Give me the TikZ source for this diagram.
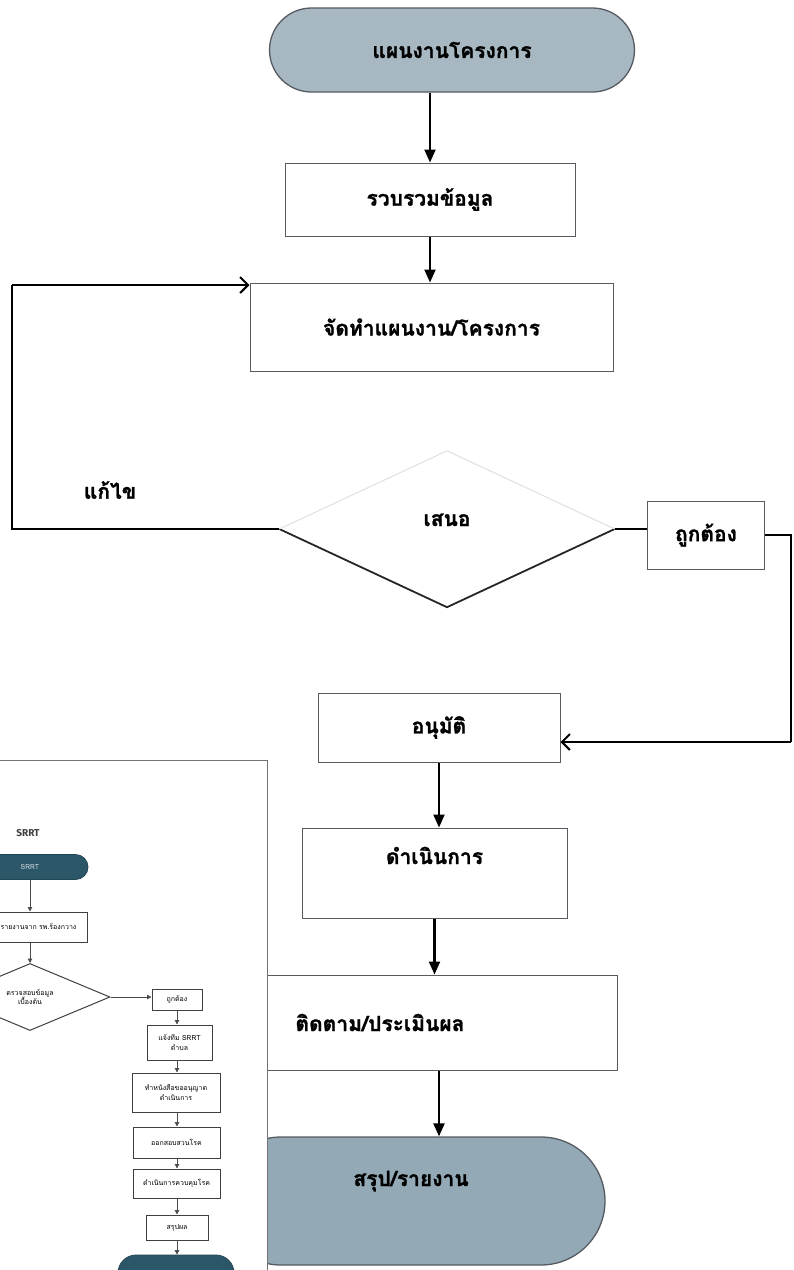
\documentclass[tikz,border=0pt]{standalone}
\usepackage{fontspec}
\newfontfamily\thai[Script=Thai, BoldFeatures={FakeBold=1.2}]{Loma}
\newfontfamily\fira{Fira Sans}
\usetikzlibrary{shapes.geometric,shapes.misc,arrows.meta}
\definecolor{termA}{HTML}{A7B8C2}
\definecolor{termB}{HTML}{93A9B6}
\definecolor{tealdark}{HTML}{2C5769}
\definecolor{edgegray}{HTML}{555B60}
\tikzset{
  mainfont/.style={font=\thai\bfseries\fontsize{21}{24}\selectfont},
  mainbox/.style={rectangle, draw=edgegray, line width=1pt, fill=white, inner sep=0pt, mainfont},
  mainterm/.style={rounded rectangle, draw=edgegray, line width=1.3pt, inner sep=0pt, mainfont},
  flow/.style={line width=2.2pt, -{Triangle[length=13pt,width=11pt]}},
  backline/.style={line width=2pt},
  openarrow/.style={line width=2pt, -{Straight Barb[length=8pt,width=16pt,line width=2pt]}},
  ifont/.style={font=\thai\fontsize{7}{9.5}\selectfont},
  ibox/.style={rectangle, draw=black!75, line width=1pt, fill=white, inner sep=0pt, align=center, ifont},
  iterm/.style={rounded rectangle, draw=tealdark!80!black, line width=0.8pt, fill=tealdark, inner sep=0pt, text=white!80!tealdark, ifont},
  iflow/.style={line width=0.9pt, draw=black!70, -{Triangle[length=4.5pt,width=4.5pt]}}
}
\begin{document}
\begin{tikzpicture}[x=1pt,y=-1pt]
\path[use as bounding box] (0,0) rectangle (794,1270);
\clip (0,0) rectangle (794,1270);
\fill[white] (0,0) rectangle (794,1270);

% ---------- main flow ----------
\node[mainterm, fill=termA, minimum width=365pt, minimum height=84pt] (start) at (452,50) {แผนงานโครงการ};
\node[mainbox, minimum width=290pt, minimum height=73pt] (collect) at (430,199.5) {รวบรวมข้อมูล};
\node[mainbox, minimum width=363pt, minimum height=88pt] (plan) at (431.5,327) {จัดทำแผนงาน/โครงการ};
\node[diamond, minimum width=335pt, minimum height=156pt, inner sep=0pt, mainfont, text height=14pt, text depth=20pt] (propose) at (447,529) {เสนอ};
\node[mainbox, minimum width=117pt, minimum height=68pt] (correct) at (706,535) {ถูกต้อง};
\node[mainbox, minimum width=242pt, minimum height=69pt] (approve) at (439,727.5) {อนุมัติ};
\node[mainbox, minimum width=265pt, minimum height=90pt, text height=14pt, text depth=32pt] (run) at (434.5,873) {ดำเนินการ};
\node[mainbox, minimum width=474pt, minimum height=95pt] (monitor) at (380,1022.5) {ติดตาม/ประเมินผล};
\node[mainterm, fill=termB, minimum width=388pt, minimum height=128pt, text height=14pt, text depth=44pt] (finish) at (411,1201) {สรุป/รายงาน};
\node[mainfont] (fix) at (110,490) {แก้ไข};

\coordinate (loopcorner) at (12,285);
\coordinate (rightcorner) at (791,742);

% diamond outline: lower edges dark, upper edges faded as in the scan
\draw[line width=1.8pt, black!85] (propose.west) -- (propose.south) -- (propose.east);
\draw[line width=1pt, black!12] (propose.west) -- (propose.north) -- (propose.east);

\draw[flow] (collect.north |- start.south) -- (collect.north);
\draw[flow] (collect.south) -- (collect.south |- plan.north);
\draw[backline] (propose.west) -| (loopcorner);
\draw[openarrow] (loopcorner) -- (loopcorner -| plan.west);
\draw[backline] (propose.east) -- (propose.east -| correct.west);
\draw[backline] (correct.east) -| (rightcorner);
\draw[openarrow] (rightcorner) -- (rightcorner -| approve.east);
\draw[flow] (approve.south) -- (approve.south |- run.north);
\draw[flow] (run.south) -- (run.south |- monitor.north);
\draw[flow] (approve.south |- monitor.south) -- (approve.south |- finish.north);

% ---------- inset (photo of another chart) ----------
\fill[white] (-2,760) rectangle (267,1272);
\draw[line width=1pt, black!55] (-2,760) -- (267,760) -- (267,1272);

\node[font=\fira\bfseries\fontsize{10}{12}\selectfont, text=black!75] (title) at (28,833) {SRRT};
\node[iterm, minimum width=116pt, minimum height=25pt] (t1) at (30,867) {SRRT};
\node[ibox, minimum width=97pt, minimum height=30pt] (b1) at (38.5,927) {รายงานจาก รพ.ร้องกวาง};
\node[diamond, draw=black!75, line width=1pt, fill=white, inner sep=0pt, align=center, ifont, minimum width=160pt, minimum height=67pt] (d2) at (30,997) {ตรวจสอบข้อมูล\\เบื้องต้น};
\node[ibox, minimum width=50pt, minimum height=21pt] (ok2) at (177,999.5) {ถูกต้อง};
\node[ibox, minimum width=65pt, minimum height=35pt] (b3) at (179.5,1042.5) {แจ้งทีม SRRT\\ตำบล};
\node[ibox, minimum width=88pt, minimum height=39pt] (b4) at (176,1092.5) {ทำหนังสือขออนุญาต\\ดำเนินการ};
\node[ibox, minimum width=87pt, minimum height=31pt] (b5) at (176.5,1142.5) {ออกสอบสวนโรค};
\node[ibox, minimum width=87pt, minimum height=29pt] (b6) at (176.5,1183.5) {ดำเนินการควบคุมโรค};
\node[ibox, minimum width=62pt, minimum height=25pt] (b7) at (177,1227.5) {สรุปผล};
\node[iterm, minimum width=116pt, minimum height=36pt] (t2) at (176,1273) {};

\draw[iflow] (t1.south) -- (t1.south |- b1.north);
\draw[iflow] (b1.south -| d2.north) -- (d2.north);
\draw[iflow] (d2.east) -- (d2.east -| ok2.west);
\draw[iflow] (ok2.south) -- (ok2.south |- b3.north);
\draw[iflow] (ok2.south |- b3.south) -- (ok2.south |- b4.north);
\draw[iflow] (ok2.south |- b4.south) -- (ok2.south |- b5.north);
\draw[iflow] (ok2.south |- b5.south) -- (ok2.south |- b6.north);
\draw[iflow] (ok2.south |- b6.south) -- (ok2.south |- b7.north);
\draw[iflow] (ok2.south |- b7.south) -- (ok2.south |- t2.north);
\end{tikzpicture}
\end{document}
